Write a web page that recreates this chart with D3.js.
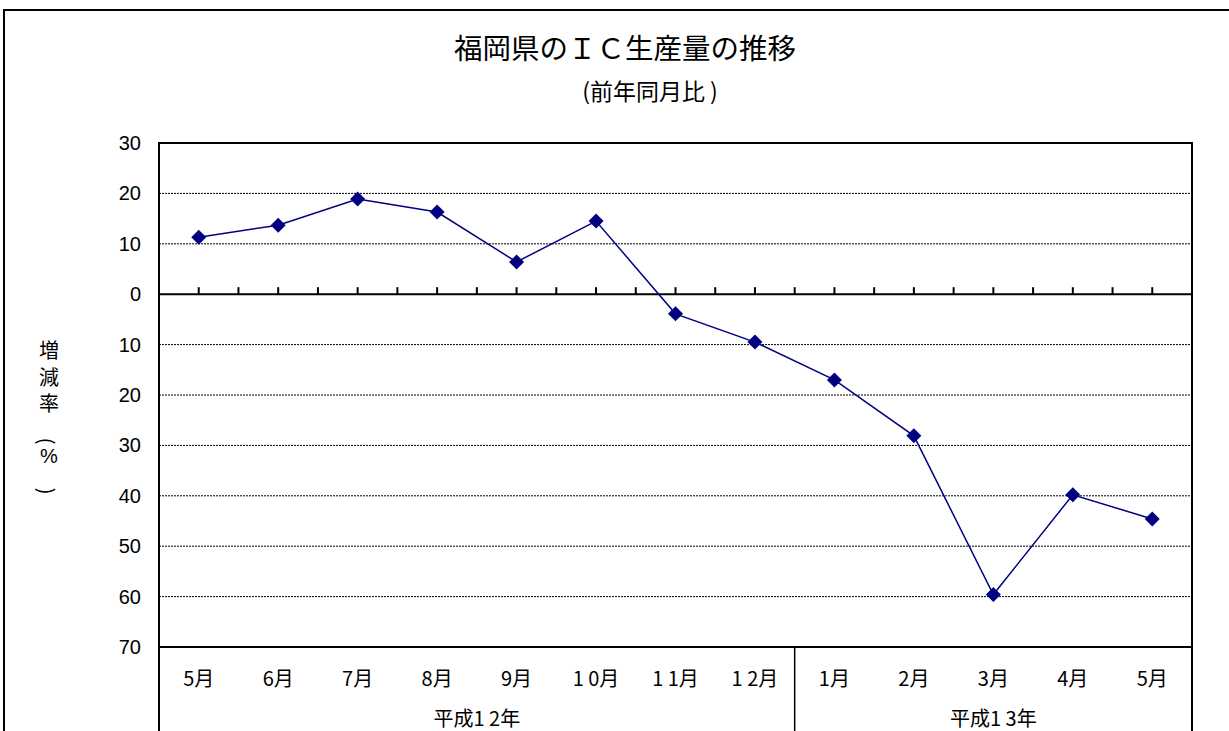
<!DOCTYPE html>
<html lang="ja">
<head>
<meta charset="UTF-8">
<script src="https://d3js.org/d3.v7.min.js"></script>
<style>
  body { margin: 0; background: #fff; }
  text { font-family: "Noto Sans CJK JP", sans-serif; fill: #000; }
  .num { font-family: "Liberation Sans", Arial, sans-serif; }
</style>
</head>
<body>
<svg id="chart" width="1229" height="731"></svg>
<script>
// data
var months = ["5月", "6月", "7月", "8月", "9月", "10月", "11月", "12月", "1月", "2月", "3月", "4月", "5月"];
var monthLabels = ["5月", "6月", "7月", "8月", "9月", "1 0月", "1 1月", "1 2月", "1月", "2月", "3月", "4月", "5月"];
var rates = [11.3, 13.7, 18.9, 16.3, 6.4, 14.5, -3.9, -9.5, -17.0, -28.1, -59.6, -39.8, -44.6];
var years = [{ label: "平成1 2年", from: 0, to: 8 }, { label: "平成1 3年", from: 8, to: 13 }];
var yTicks = [30, 20, 10, 0, -10, -20, -30, -40, -50, -60, -70];

var svg = d3.select("#chart");
var plotLeft = 159, plotRight = 1192, plotTop = 143, plotBottom = 647;

var x = d3.scaleBand().domain(d3.range(months.length)).range([plotLeft, plotRight]).padding(0);
var y = d3.scaleLinear().domain([30, -70]).range([plotTop, plotBottom]);

// outer frame
svg.append("rect").attr("x", 4).attr("y", 10).attr("width", 1240).attr("height", 760)
  .attr("fill", "none").attr("stroke", "#000").attr("stroke-width", 2);

// titles
svg.append("text").attr("x", 625).attr("y", 59).attr("text-anchor", "middle")
  .attr("font-size", 28.5).text("福岡県のＩＣ生産量の推移");
svg.append("text").attr("x", 650).attr("y", 100).attr("text-anchor", "middle")
  .attr("font-size", 23).text("(前年同月比 )");

// gridlines
svg.append("g").selectAll("line").data(yTicks.filter(function (d) { return d !== 0 && d !== 30 && d !== -70; }))
  .join("line")
  .attr("x1", plotLeft).attr("x2", plotRight)
  .attr("y1", function (d) { return y(d); }).attr("y2", function (d) { return y(d); })
  .attr("stroke", "#000").attr("stroke-width", 1).attr("stroke-dasharray", "2,1");

// plot border
svg.append("rect").attr("x", plotLeft).attr("y", plotTop).attr("width", plotRight - plotLeft).attr("height", plotBottom - plotTop)
  .attr("fill", "none").attr("stroke", "#000").attr("stroke-width", 2);

// zero line + ticks
svg.append("line").attr("x1", plotLeft).attr("x2", plotRight).attr("y1", y(0)).attr("y2", y(0))
  .attr("stroke", "#000").attr("stroke-width", 2);
var tickPos = [];
months.forEach(function (m, i) {
  tickPos.push(x(i) + x.bandwidth() / 2);
  if (i > 0) tickPos.push(x(i));
});
svg.append("g").selectAll("line").data(tickPos).join("line")
  .attr("x1", function (d) { return d; }).attr("x2", function (d) { return d; })
  .attr("y1", y(0) - 7).attr("y2", y(0))
  .attr("stroke", "#000").attr("stroke-width", 2);

// y axis labels (shown without sign)
svg.append("g").selectAll("text").data(yTicks).join("text")
  .attr("class", "num")
  .attr("x", 141).attr("y", function (d) { return y(d) + 7; })
  .attr("text-anchor", "end").attr("font-size", 20)
  .text(function (d) { return Math.abs(d); });

// y title (vertical)
var yt = svg.append("g").attr("font-size", 20);
["増", "減", "率"].forEach(function (c, i) {
  yt.append("text").attr("x", 49).attr("y", 358 + i * 26.5).attr("text-anchor", "middle").text(c);
});
yt.append("text").attr("transform", "translate(47,441) rotate(90)").attr("text-anchor", "middle")
  .attr("dominant-baseline", "central").text("(");
yt.append("text").attr("class", "num").attr("x", 49).attr("y", 463).attr("text-anchor", "middle").text("%");
yt.append("text").attr("transform", "translate(47,491) rotate(90)").attr("text-anchor", "middle")
  .attr("dominant-baseline", "central").text(")");

// category table lines below plot
svg.append("g").selectAll("line").data([plotLeft, x(8), plotRight]).join("line")
  .attr("x1", function (d) { return d; }).attr("x2", function (d) { return d; })
  .attr("y1", plotBottom).attr("y2", 740)
  .attr("stroke", "#000").attr("stroke-width", function (d, i) { return i === 1 ? 1.5 : 2; });

svg.append("g").selectAll("text").data(monthLabels).join("text")
  .attr("x", function (d, i) { return x(i) + x.bandwidth() / 2; })
  .attr("y", 686).attr("text-anchor", "middle").attr("font-size", 20)
  .text(function (d) { return d; });

svg.append("g").selectAll("text").data(years).join("text")
  .attr("x", function (d) { return (x(d.from) + (d.to < months.length ? x(d.to) : plotRight)) / 2; })
  .attr("y", 726).attr("text-anchor", "middle").attr("font-size", 20)
  .text(function (d) { return d.label; });

// series
var cx = function (d, i) { return x(i) + x.bandwidth() / 2; };
svg.append("path").datum(rates)
  .attr("d", d3.line().x(cx).y(function (d) { return y(d); }))
  .attr("fill", "none").attr("stroke", "#000080").attr("stroke-width", 1.5);
svg.append("g").selectAll("path").data(rates).join("path")
  .attr("transform", function (d, i) { return "translate(" + cx(d, i) + "," + y(d) + ")"; })
  .attr("d", "M0,-7.5L7.5,0L0,7.5L-7.5,0Z")
  .attr("fill", "#000080");
</script>
</body>
</html>
